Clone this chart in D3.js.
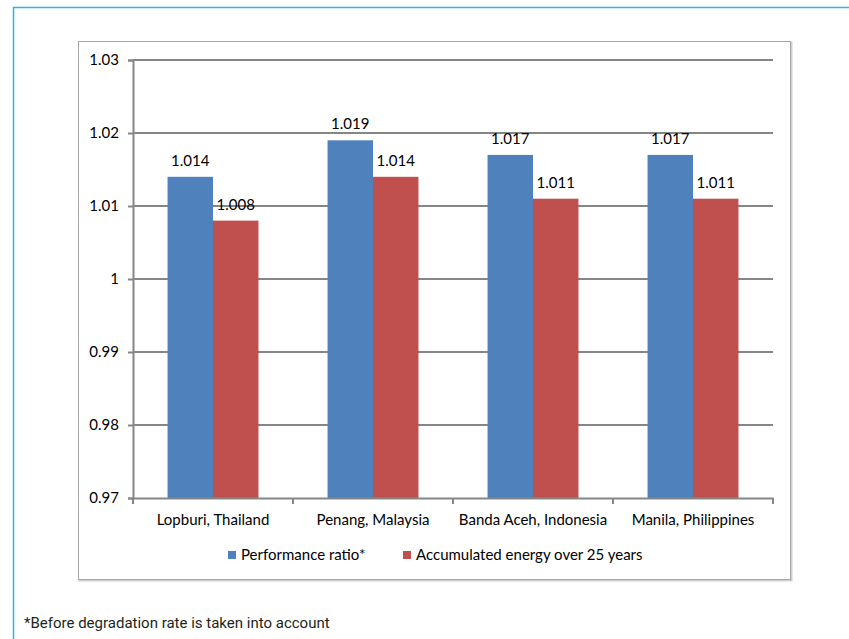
<!DOCTYPE html>
<html>
<head>
<meta charset="utf-8">
<script src="https://cdn.jsdelivr.net/npm/d3@7"></script>
<style>
  body { margin: 0; background: #fff; }
  svg { display: block; }
</style>
</head>
<body>
<script>
const categories = ["Lopburi, Thailand", "Penang, Malaysia", "Banda Aceh, Indonesia", "Manila, Philippines"];
const series_names = ["Performance ratio*", "Accumulated energy over 25 years"];
const performance = [1.014, 1.019, 1.017, 1.017];
const accumulated = [1.008, 1.014, 1.011, 1.011];
const y_ticks = [0.97, 0.98, 0.99, 1, 1.01, 1.02, 1.03];
const colors = ["#4f81bd", "#c0504d"];
const footnote = "*Before degradation rate is taken into account";

const W = 849, H = 639;
const plot = { left: 133, right: 773, top: 60, bottom: 498 };
const font = "Lato, 'Open Sans', sans-serif";
const fs = 15;

const svg = d3.select("body").append("svg").attr("width", W).attr("height", H);

// cyan frame lines
svg.append("line").attr("x1", 13.5).attr("x2", 13.5).attr("y1", 7).attr("y2", H)
  .attr("stroke", "#2fb4de").attr("stroke-width", 1.5);
svg.append("line").attr("x1", 13).attr("x2", W).attr("y1", 7.5).attr("y2", 7.5)
  .attr("stroke", "#2fb4de").attr("stroke-width", 1.5);

// chart box
svg.append("rect").attr("x", 79.5).attr("y", 42.5).attr("width", 712).attr("height", 538)
  .attr("fill", "none").attr("stroke", "#d0d0d0").attr("stroke-width", 2);
svg.append("rect").attr("x", 78.5).attr("y", 41.5).attr("width", 712).attr("height", 538)
  .attr("fill", "#fff").attr("stroke", "#a6a6a6").attr("stroke-width", 1);

const x = d3.scaleBand().domain(categories).range([plot.left, plot.right]).paddingInner(0).paddingOuter(0);
const x1 = d3.scaleBand().domain([0, 1]).range([0, x.bandwidth()]).paddingInner(0).paddingOuter(0.76);
const y = d3.scaleLinear().domain([0.97, 1.03]).range([plot.bottom, plot.top]);

// gridlines
svg.append("g").selectAll("line").data(y_ticks.filter(t => t > 0.97)).join("line")
  .attr("x1", plot.left).attr("x2", plot.right)
  .attr("y1", d => y(d)).attr("y2", d => y(d))
  .attr("stroke", "#868686").attr("stroke-width", 2);

// bars
const data = categories.map((c, i) => ({ c, vals: [performance[i], accumulated[i]] }));
const groups = svg.append("g").selectAll("g").data(data).join("g")
  .attr("transform", d => `translate(${x(d.c)},0)`);
groups.selectAll("rect").data(d => d.vals.map((v, k) => ({ v, k }))).join("rect")
  .attr("x", d => x1(d.k)).attr("width", x1.bandwidth())
  .attr("y", d => y(d.v)).attr("height", d => y(0.97) - y(d.v))
  .attr("fill", d => colors[d.k]);
groups.selectAll("text").data(d => d.vals.map((v, k) => ({ v, k }))).join("text")
  .attr("x", d => x1(d.k) + x1.bandwidth() / 2).attr("y", d => y(d.v) - 11)
  .attr("text-anchor", "middle").attr("font-family", font).attr("font-size", fs)
  .attr("fill", "#000").text(d => d3.format(".3f")(d.v));

// axes
const yAxis = svg.append("g").attr("transform", `translate(${plot.left},0)`)
  .call(d3.axisLeft(y).tickValues(y_ticks).tickSize(5).tickPadding(9)
    .tickFormat(d => d === 1 ? "1" : d3.format(".2f")(d)));
const xAxis = svg.append("g").attr("transform", `translate(0,${plot.bottom})`)
  .call(d3.axisBottom(x).tickSize(0).tickPadding(16));
[yAxis, xAxis].forEach(a => {
  a.select(".domain").attr("stroke", "#868686").attr("stroke-width", 2);
  a.selectAll(".tick line").attr("stroke", "#868686").attr("stroke-width", 2);
  a.selectAll("text").attr("font-family", font).attr("font-size", fs).attr("fill", "#000");
});
// category boundary ticks
svg.append("g").selectAll("line").data(categories.concat(["end"])).join("line")
  .attr("x1", (d, i) => i < categories.length ? x(d) : plot.right)
  .attr("x2", (d, i) => i < categories.length ? x(d) : plot.right)
  .attr("y1", plot.bottom).attr("y2", plot.bottom + 6)
  .attr("stroke", "#868686").attr("stroke-width", 2);

// legend
const legend = svg.append("g").attr("transform", "translate(228,555)");
const lx = [0, 175];
series_names.forEach((s, k) => {
  legend.append("rect").attr("x", lx[k]).attr("y", -4).attr("width", 8).attr("height", 8).attr("fill", colors[k]);
  legend.append("text").attr("x", lx[k] + 13).attr("y", 5).attr("font-family", font)
    .attr("font-size", fs).attr("fill", "#000").text(s);
});

// footnote
svg.append("text").attr("x", 24).attr("y", 628).attr("font-family", "'Liberation Sans Narrow', 'Roboto', sans-serif")
  .attr("font-size", 15).attr("fill", "#231f20").text(footnote);
</script>
</body>
</html>
